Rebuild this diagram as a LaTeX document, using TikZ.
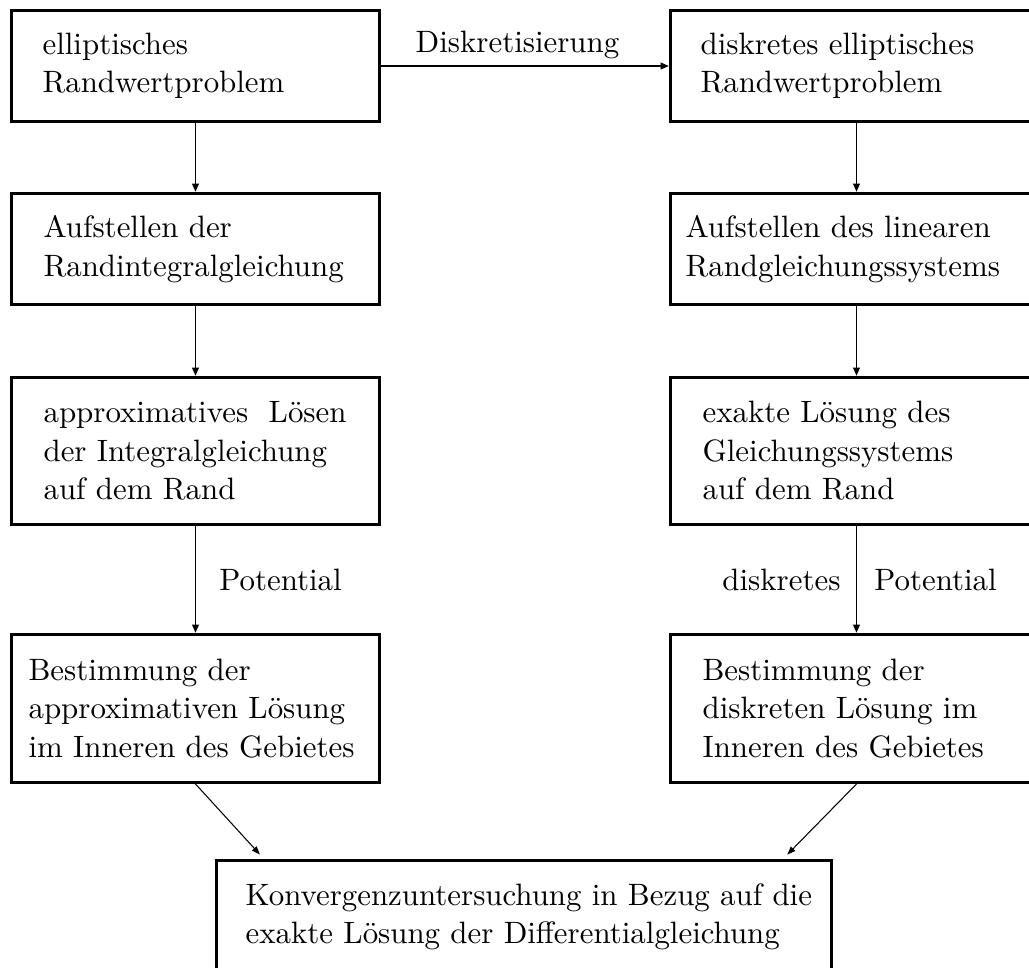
\documentclass[tikz,border=0pt]{standalone}
\usetikzlibrary{arrows.meta,positioning}

\begin{document}
\begin{tikzpicture}[x=1pt,y=-1pt,font=\fontsize{10.3}{12.8}\selectfont]
  \tikzset{kasten/.style={draw, line width=1pt, anchor=north west, inner sep=0pt},
           txt/.style={inner sep=0pt, align=left},
           pfeil/.style={-{Triangle[length=2.8pt,width=2.2pt]}, line width=0.65pt},
           schraeg/.style={-{Triangle[length=2.8pt,width=2pt]}, line width=0.35pt, shorten >=2pt}}

  \useasboundingbox (0,0) rectangle (343,322.67);

  % linke Spalte
  \node[kasten, minimum width=122.67pt, minimum height=37pt] (rwp) at (3.33,3) {};
  \node[txt, right=10.67pt of rwp.west] (rwpt) {elliptisches\\Randwertproblem};
  \node[kasten, minimum width=122.67pt, minimum height=37pt] (rig) at (3.33,64) {};
  \node[txt, right=11pt of rig.west] (rigt) {Aufstellen der\\Randintegralgleichung};
  \node[kasten, minimum width=122.67pt, minimum height=49pt] (appr) at (3.33,125.33) {};
  \node[txt, right=11pt of appr.west] (apprt) {approximatives\ \ L\"osen\\der Integralgleichung\\auf dem Rand};
  \node[kasten, minimum width=122.67pt, minimum height=49.33pt] (aloes) at (3.33,211) {};
  \node[txt, right=6pt of aloes.west] (aloest) {Bestimmung der\\approximativen L\"osung\\im Inneren des Gebietes};

  % rechte Spalte
  \node[kasten, minimum width=124pt, minimum height=37pt] (drwp) at (223,3) {};
  \node[txt, right=10.33pt of drwp.west] (drwpt) {diskretes elliptisches\\Randwertproblem};
  \node[kasten, minimum width=124pt, minimum height=37pt] (lgs) at (223,64) {};
  \node[txt, right=5.33pt of lgs.west] (lgst) {Aufstellen des linearen\\Randgleichungssystems};
  \node[kasten, minimum width=124pt, minimum height=49pt] (loes) at (223,125.33) {};
  \node[txt, right=11pt of loes.west] (loest) {exakte L\"osung des\\Gleichungssystems\\auf dem Rand};
  \node[kasten, minimum width=124pt, minimum height=49.33pt] (dloes) at (223,211) {};
  \node[txt, right=11pt of dloes.west] (dloest) {Bestimmung der\\diskreten L\"osung im\\Inneren des Gebietes};

  % unten
  \node[kasten, minimum width=205pt, minimum height=37.67pt] (konv) at (71.67,286.33) {};
  \node[txt, right=10pt of konv.west] (konvt) {Konvergenzuntersuchung in Bezug auf die\\exakte L\"osung der Differentialgleichung};

  \draw[pfeil] (rwp) -- node[above, inner sep=2pt, xshift=-2.5pt] (diskr) {Diskretisierung} (drwp);
  \draw[pfeil] (rwp) -- (rig);
  \draw[pfeil] (rig) -- (appr);
  \draw[pfeil] (appr) -- node[right=4.3pt] (pot1) {Potential} (aloes);
  \draw[pfeil] (drwp) -- (lgs);
  \draw[pfeil] (lgs) -- (loes);
  \draw[pfeil] (loes) -- node[left=1.7pt] (dis) {diskretes} node[right=2.3pt] (pot2) {Potential} (dloes);

  \draw[schraeg] (aloes.south) -- ([xshift=16.33pt]konv.north west);
  \draw[schraeg] (dloes.south) -- ([xshift=-16.67pt]konv.north east);
\end{tikzpicture}
\end{document}
